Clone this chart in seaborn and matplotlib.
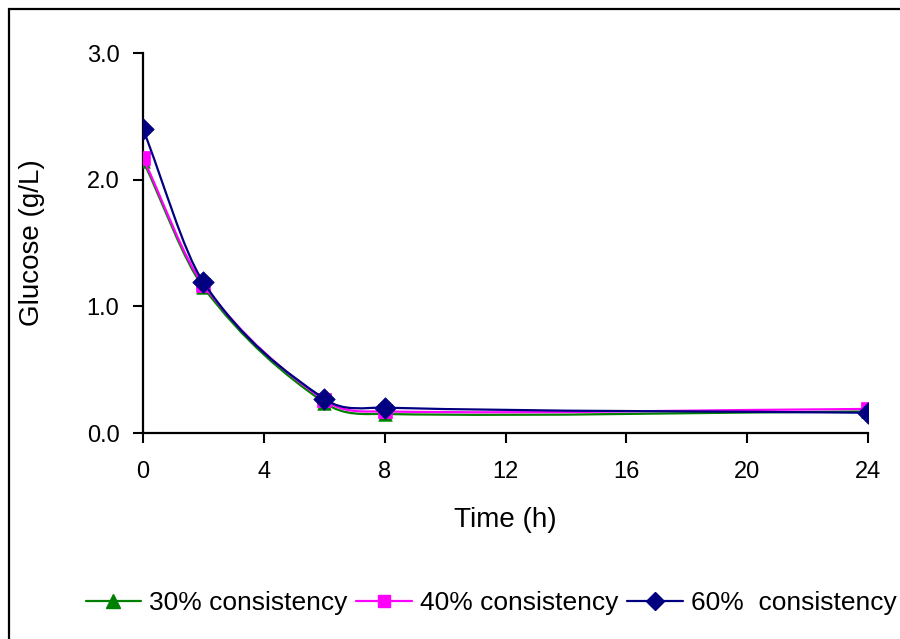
import numpy as np
import matplotlib
matplotlib.use("Agg")
import matplotlib.pyplot as plt
import seaborn as sns
from matplotlib.path import Path
from matplotlib.patches import PathPatch, Rectangle
from matplotlib.lines import Line2D

# Glucose concentration over time for three pulp consistencies
time_h = [0, 2, 6, 8, 24]
glucose_30 = [2.15, 1.15, 0.24, 0.15, 0.17]
glucose_40 = [2.17, 1.17, 0.26, 0.17, 0.19]
glucose_60 = [2.40, 1.19, 0.27, 0.20, 0.16]
series_labels = ["30% consistency", "40% consistency", "60%  consistency"]
x_ticks = [0, 4, 8, 12, 16, 20, 24]
y_ticks = [0.0, 1.0, 2.0, 3.0]

sns.set_style("ticks")
plt.rcParams["font.family"] = ["Liberation Sans", "DejaVu Sans"]
plt.rcParams["text.color"] = "black"
plt.rcParams["axes.labelcolor"] = "black"

fig = plt.figure(figsize=(9, 6.39), dpi=100)
ax = fig.add_axes([143 / 900, 1 - 433 / 639, (868 - 143) / 900, 380 / 639])

# Outer chart frame (runs off the right and bottom edges)
fig.patches.append(Rectangle((9 / 900, -0.05), 1.1, 1 - 9 / 639 + 0.05,
                             transform=fig.transFigure, fill=False,
                             edgecolor="black", linewidth=1.6, zorder=0))


def smooth_path(xs, ys):
    """Piecewise cubic Bezier through the points, with Catmull-Rom slopes."""
    x = np.asarray(xs, dtype=float)
    y = np.asarray(ys, dtype=float)
    n = len(x)
    slopes = np.empty(n)
    slopes[0] = (y[1] - y[0]) / (x[1] - x[0])
    slopes[-1] = (y[-1] - y[-2]) / (x[-1] - x[-2])
    for i in range(1, n - 1):
        slopes[i] = (y[i + 1] - y[i - 1]) / (x[i + 1] - x[i - 1])
    verts = [(x[0], y[0])]
    codes = [Path.MOVETO]
    for i in range(n - 1):
        h = (x[i + 1] - x[i]) / 3.0
        verts += [(x[i] + h, y[i] + h * slopes[i]),
                  (x[i + 1] - h, y[i + 1] - h * slopes[i + 1]),
                  (x[i + 1], y[i + 1])]
        codes += [Path.CURVE4] * 3
    return Path(verts, codes)


styles = [
    (glucose_30, "#008000", "^", 95, 9.5),
    (glucose_40, "#FF00FF", "s", 90, 9.0),
    (glucose_60, "#000080", "D", 120, 9.0),
]

handles = []
for k, ((vals, color, marker, size, msize), label) in enumerate(zip(styles, series_labels)):
    ax.add_patch(PathPatch(smooth_path(time_h, vals), fill=False,
                           edgecolor=color, linewidth=1.6, zorder=2 + 2 * k))
    sns.scatterplot(x=time_h, y=vals, marker=marker, s=size, color=color,
                    edgecolor=color, linewidth=0.5, ax=ax, zorder=3 + 2 * k,
                    legend=False)
    handles.append(Line2D([], [], color=color, linewidth=1.6, marker=marker,
                          markersize=msize, markeredgecolor=color, label=label))

ax.set_xlim(0, 24)
ax.set_ylim(0, 3.0)
ax.set_xticks(x_ticks)
ax.set_yticks(y_ticks)
ax.set_yticklabels([f"{v:.1f}" for v in y_ticks])
ax.tick_params(axis="both", direction="out", length=7, width=1.5,
               labelsize=17, color="black", labelcolor="black")
ax.tick_params(axis="x", pad=13)
ax.tick_params(axis="y", pad=10)
for side in ["top", "right"]:
    ax.spines[side].set_visible(False)
for side in ["left", "bottom"]:
    ax.spines[side].set_linewidth(1.6)
    ax.spines[side].set_color("black")

ax.set_xlabel("Time (h)", fontsize=20, color="black")
ax.set_ylabel("Glucose (g/L)", fontsize=20, color="black")
ax.xaxis.set_label_coords(0.5, -0.195)
ax.yaxis.set_label_coords(-0.135, 0.5)

fig.legend(handles=handles, loc="center", bbox_to_anchor=(491 / 900, 1 - 603 / 639),
           ncol=3, frameon=False, fontsize=19, handlelength=2.1,
           handletextpad=0.3, columnspacing=0.35, borderaxespad=0)

fig.savefig("out.png", dpi=100, facecolor="white")
